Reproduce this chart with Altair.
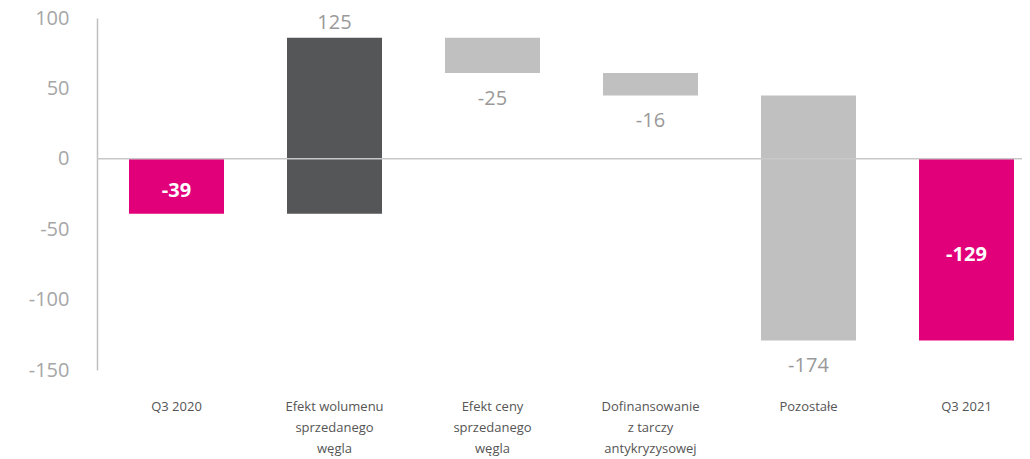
import altair as alt
import pandas as pd

categories = ["Q3 2020", "Efekt wolumenu|sprzedanego|węgla", "Efekt ceny|sprzedanego|węgla",
              "Dofinansowanie|z tarczy|antykryzysowej", "Pozostałe", "Q3 2021"]
starts = [0, -39, 86, 61, 45, 0]
ends = [-39, 86, 61, 45, -129, -129]
labels = ["-39", "125", "-25", "-16", "-174", "-129"]
kinds = ["total", "up", "down", "down", "down", "total"]

df = pd.DataFrame({"cat": categories, "start": starts, "end": ends, "label": labels, "kind": kinds})
df["mid"] = (df["start"] + df["end"]) / 2

x = alt.X("cat:N", sort=categories, title=None,
          scale=alt.Scale(paddingInner=0.3987, paddingOuter=0.1266, align=0.8),
          axis=alt.Axis(domain=False, ticks=False, labelAngle=0, labelPadding=36,
                        labelExpr="split(datum.label, '|')", labelFont="Open Sans",
                        labelFontSize=13, labelColor="#555555", labelLineHeight=21,
                        labelBaseline="middle"))
y_scale = alt.Scale(domain=[-150, 100], nice=False, zero=False)

base = alt.Chart(df)

bars = base.mark_bar().encode(
    x=x,
    y=alt.Y("start:Q", scale=y_scale, title=None,
            axis=alt.Axis(values=[-150, -100, -50, 0, 50, 100], grid=False, ticks=False,
                          labelExpr="datum.value",
                          domainColor="#BFBFBF", domainWidth=1.5, labelPadding=28,
                          labelFont="Open Sans", labelFontSize=20, labelColor="#A6A6A6")),
    y2="end:Q",
    color=alt.Color("kind:N", legend=None,
                    scale=alt.Scale(domain=["total", "up", "down"],
                                    range=["#E2007A", "#555658", "#C0C0C0"])),
)

zero = alt.Chart(pd.DataFrame({"z": [0]})).mark_rule(color="#C8C8C8", strokeWidth=1.5).encode(
    y=alt.Y("z:Q", scale=y_scale)
)

inside = base.transform_filter("datum.kind == 'total'").mark_text(
    font="Open Sans", fontSize=20, fontWeight="bold", color="white", baseline="middle", dy=5
).encode(x=x, y=alt.Y("mid:Q", scale=y_scale), text="label:N")

above = base.transform_filter("datum.kind == 'up'").mark_text(
    font="Open Sans", fontSize=20, color="#999999", baseline="middle", dy=-15
).encode(x=x, y=alt.Y("end:Q", scale=y_scale), text="label:N")

below = base.transform_filter("datum.kind == 'down'").mark_text(
    font="Open Sans", fontSize=20, color="#999999", baseline="middle", dy=26
).encode(x=x, y=alt.Y("end:Q", scale=y_scale), text="label:N")

chart = alt.layer(bars, zero, inside, above, below).properties(
    width=925, height=352,
    autosize=alt.AutoSizeParams(type="none"),
    padding={"left": 89, "top": 10, "right": 0, "bottom": 92},
).configure_view(stroke=None)

chart.save("out.html", embed_options={"renderer": "svg", "actions": False})
